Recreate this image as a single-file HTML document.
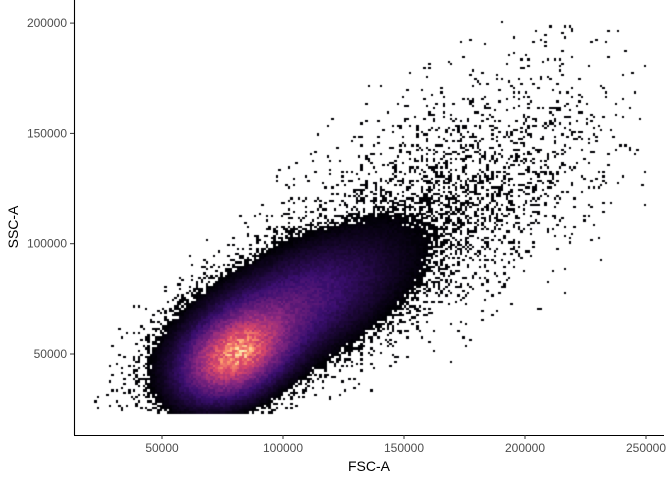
<!DOCTYPE html>
<html><head><meta charset="utf-8"><style>
body{margin:0;background:#fff;font-family:"Liberation Sans",sans-serif}
#wrap{position:relative;width:672px;height:480px}
canvas{position:absolute;left:0;top:0}
</style></head><body>
<div id="wrap">
<canvas id="c" width="672" height="480"></canvas>
<svg id="ax" width="672" height="480" style="position:absolute;left:0;top:0"></svg>
</div>
<script>
// data (units of 1000): gaussian components describing the event density
const compX=[80,102,170];
const compY=[49,70,120];
const compSX=[13,26,40];
const compSY=[12,19,35];
const compRho=[0.35,0.6,0.5];
const compW=[1.0,0.4,0.035];
const xTicks=[50000,100000,150000,200000,250000];
const yTicks=[50000,100000,150000,200000];
const yFloor=23; // lower cutoff (thousands)
const xLeft=22;

const X=v=>162+(v-50000)*121/50000;
const Y=v=>354-(v-50000)*110.3/50000;

const ctx=document.getElementById('c').getContext('2d');
function dens(x,y){let d=0;for(let k=0;k<compX.length;k++){const u=(x-compX[k])/compSX[k],w=(y-compY[k])/compSY[k],r=compRho[k];d+=compW[k]*Math.exp(-(u*u-2*r*u*w+w*w)/(2*(1-r*r)));}return d;}
function hash(i,j){let h=(i*374761393+j*668265263)|0;h=(h^(h>>>13))*1274126177|0;return ((h^(h>>>16))>>>0)/4294967296;}
const mag=[[0,0,0,4],[0.25,59,15,112],[0.5,140,41,129],[0.75,222,73,104],[0.9,254,159,109],[1,252,253,191]];
function col(t){t=Math.max(0,Math.min(1,t));for(let i=1;i<mag.length;i++){if(t<=mag[i][0]){const a=mag[i-1],b=mag[i],f=(t-a[0])/(b[0]-a[0]);return `rgb(${Math.round(a[1]+f*(b[1]-a[1]))},${Math.round(a[2]+f*(b[2]-a[2]))},${Math.round(a[3]+f*(b[3]-a[3]))})`;}}return 'rgb(252,253,191)';}
const step=1;let dmax=0;
for(let x=xLeft;x<250;x+=step)for(let y=yFloor;y<205;y+=step)dmax=Math.max(dmax,dens(x,y));
for(let x=xLeft;x<250;x+=step){for(let y=yFloor;y<205;y+=step){
 const d=dens(x+0.5,y+0.5)*(0.85+0.3*hash(x*7+1,y*3+2));
 const thr=0.06;let show=d>thr;
 if(!show&&d>0.002)show=hash(x,y)<Math.pow(d/thr,1.3)*0.7;
 if(!show)continue;
 const t=0.9*Math.pow(Math.max(0,d-thr)/(dmax-thr),0.85);
 ctx.fillStyle=col(t);
 const x0=Math.round(X(x*1000)),x1=Math.round(X((x+step)*1000));
 const y0=Math.round(Y((y+step)*1000)),y1=Math.round(Y(y*1000));
 ctx.fillRect(x0,y0,Math.max(2,x1-x0),Math.max(2,y1-y0));
}}
const svg=document.getElementById('ax');const NS='http://www.w3.org/2000/svg';
function el(t,a){const e=document.createElementNS(NS,t);for(const k in a)e.setAttribute(k,a[k]);svg.appendChild(e);return e;}
let e=el('line',{x1:74.5,y1:0,x2:74.5,y2:435,stroke:'#000','stroke-width':1.1});

e=el('line',{x1:74,y1:435.5,x2:664,y2:435.5,stroke:'#000','stroke-width':1.1});

xTicks.forEach(v=>{const x=X(v);
 let t=el('line',{x1:x,y1:435,x2:x,y2:439,stroke:'#333'});
 let l=el('text',{x:x,y:452,'text-anchor':'middle','font-size':12,fill:'#4d4d4d'});l.textContent=v;});
yTicks.forEach(v=>{const y=Y(v);
 let t=el('line',{x1:70,y1:y,x2:74,y2:y,stroke:'#333'});
 let l=el('text',{x:67,y:y+4,'text-anchor':'end','font-size':12,fill:'#4d4d4d'});l.textContent=v;});
e=el('text',{x:369,y:471,'text-anchor':'middle','font-size':14,fill:'#000'});e.textContent='FSC-A';

e=el('text',{x:18,y:227,'text-anchor':'middle','font-size':14,fill:'#000',transform:'rotate(-90 18 227)'});e.textContent='SSC-A';

</script>
</body></html>
